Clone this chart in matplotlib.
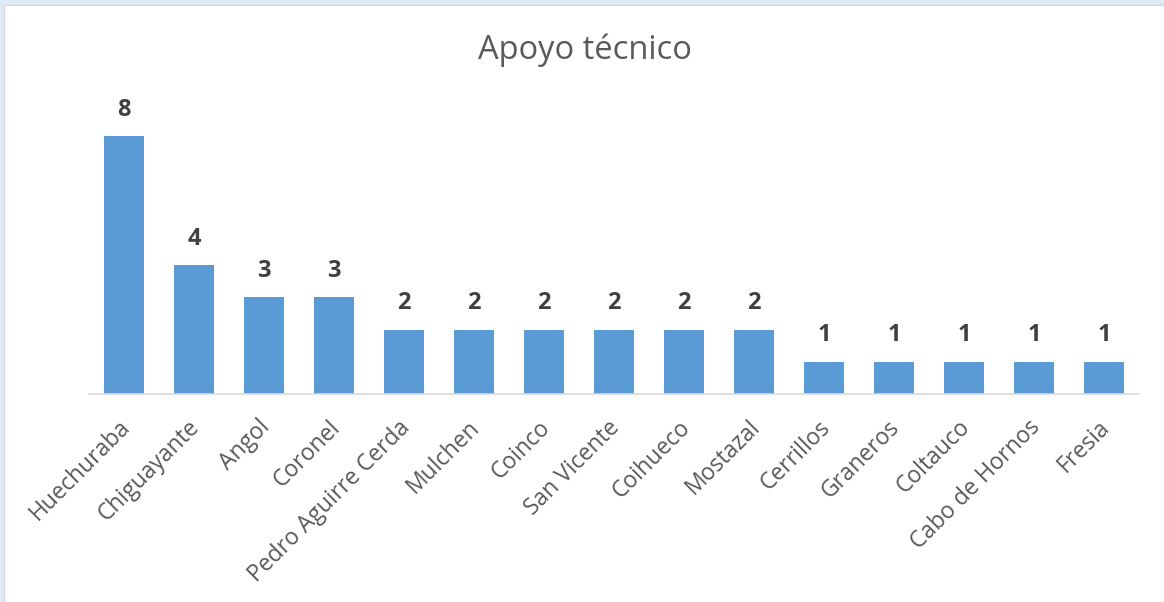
import numpy as np
import matplotlib
matplotlib.use("Agg")
import matplotlib.pyplot as plt
import matplotlib.transforms as mtransforms
from matplotlib.patches import Rectangle

plt.rcParams['font.family'] = ['Open Sans', 'DejaVu Sans']

comunas = ["Huechuraba", "Chiguayante", "Angol", "Coronel", "Pedro Aguirre Cerda",
           "Mulchen", "Coinco", "San Vicente", "Coihueco", "Mostazal",
           "Cerrillos", "Graneros", "Coltauco", "Cabo de Hornos", "Fresia"]
valores = [8, 4, 3, 3, 2, 2, 2, 2, 2, 2, 1, 1, 1, 1, 1]

W, H = 1164, 602
fig = plt.figure(figsize=(W / 100, H / 100), dpi=100)
fig.patch.set_facecolor('#dfeaf6')
# white chart area inside light blue frame
fig.patches.append(Rectangle((4 / W, 0), 1, 1 - 5 / H, transform=fig.transFigure,
                             facecolor='white', edgecolor='#d6d6d6', lw=0.8, zorder=-10))

ax = fig.add_axes([89 / W, 1 - 394 / H, 1050 / W, 290 / H])
ax.set_zorder(5)
ax.set_facecolor('none')
x = np.arange(len(comunas))
bars = ax.bar(x, valores, width=0.57, color='#5b9bd5', zorder=2)

for xi, v in zip(x, valores):
    ax.text(xi, v + 0.45, str(v), ha='center', va='bottom', fontsize=17,
            fontweight='bold', color='#404040')

ax.set_xlim(-0.5, len(comunas) - 0.5)
ax.set_ylim(0, 9)
ax.set_yticks([])
for s in ['top', 'right', 'left']:
    ax.spines[s].set_visible(False)
ax.spines['bottom'].set_color('#d9d9d9')
ax.spines['bottom'].set_linewidth(1.2)

ax.set_xticks(x)
ax.set_xticklabels(comunas, rotation=45, ha='right', rotation_mode='anchor',
                   fontsize=16.5, color='#595959')
ax.tick_params(axis='x', length=0, pad=9)
# nudge labels down-left a bit
shift = mtransforms.ScaledTranslation(-6 / 100, -9 / 100, fig.dpi_scale_trans)
for lbl in ax.get_xticklabels():
    lbl.set_transform(lbl.get_transform() + shift)

fig.text(585 / W, 1 - 50 / H, "Apoyo técnico", ha='center', va='center',
         fontsize=23.5, color='#595959')

fig.savefig("out.png", dpi=100, facecolor=fig.get_facecolor())
